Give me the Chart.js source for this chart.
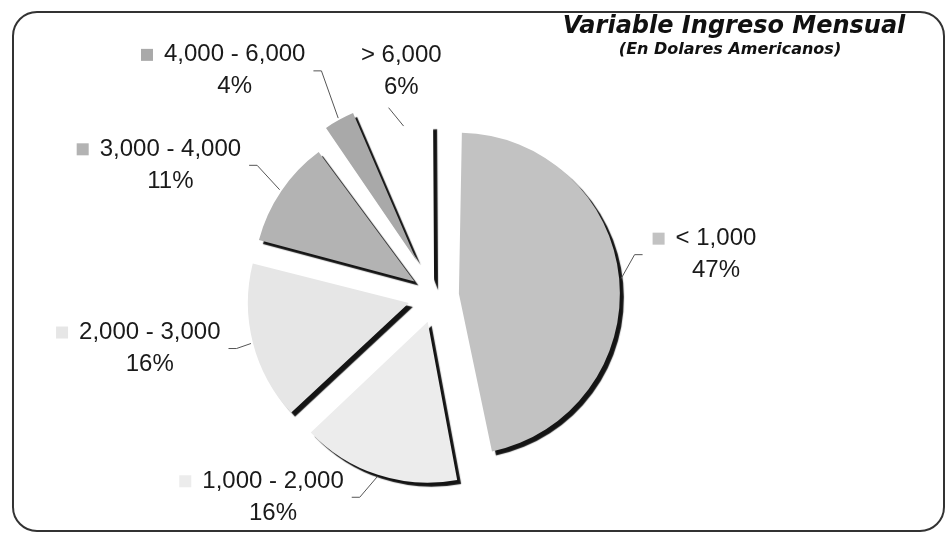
<!DOCTYPE html>
<html>
<head>
<meta charset="utf-8">
<script src="https://cdn.jsdelivr.net/npm/chart.js@4.4.0/dist/chart.umd.min.js"></script>
<style>
    html, body { margin: 0; padding: 0; background: #fff; }
    #wrap { position: relative; width: 950px; height: 537px; }
</style>
</head>
<body>
<div id="wrap"><canvas id="chart"></canvas></div>
<script>
// Données
const categories = ['< 1,000', '1,000 - 2,000', '2,000 - 3,000', '3,000 - 4,000', '4,000 - 6,000', '> 6,000'];
const percents = [47, 16, 16, 11, 4, 6];

// Style des secteurs
const sliceColors = ['#c2c2c2', '#ececec', '#e6e6e6', '#b3b3b3', '#a9a9a9', '#ffffff'];
const explodePx = [23, 27, 28, 26, 40, 10];
// Placement des étiquettes (décalage angulaire en degrés, distance au centre)
const labelTurn = [-3, 21, 4, -8, -13, 2];
const labelDist = [283, 259, 291, 296, 302, 227];

const PIE_R = 161;

// Ombre portée des secteurs + correction du rayon (v4 agrandit les secteurs décalés)
const shadowPlugin = {
    id: 'sliceShadow',
    beforeDatasetsDraw(chart) {
        const meta = chart.getDatasetMeta(0);
        meta.data.forEach(arc => {
            const off = (arc.options.offset || 0) / 4;
            const fix = 1 - Math.sin(Math.min(Math.PI, arc.circumference));
            arc.outerRadius = PIE_R - off * fix;
        });
        const ctx = chart.ctx;
        ctx.save();
        ctx.shadowColor = 'rgba(0,0,0,0.92)';
        ctx.shadowOffsetX = 4;
        ctx.shadowOffsetY = 4;
        ctx.shadowBlur = 1;
    },
    afterDatasetsDraw(chart) {
        chart.ctx.restore();
    }
};

// Etiquettes avec lignes de rappel
const labelsPlugin = {
    id: 'sliceLabels',
    afterDatasetsDraw(chart) {
        const ctx = chart.ctx;
        const meta = chart.getDatasetMeta(0);
        ctx.save();
        ctx.font = '24px "Liberation Sans", Arial, sans-serif';
        ctx.textBaseline = 'middle';
        ctx.textAlign = 'center';
        meta.data.forEach((arc, i) => {
            const mid = (arc.startAngle + arc.endAngle) / 2;
            const a = mid + labelTurn[i] * Math.PI / 180;
            const cx = arc.x + Math.cos(a) * labelDist[i];
            const cy = arc.y + Math.sin(a) * labelDist[i];
            const line1 = categories[i];
            const line2 = percents[i] + '%';
            const w1 = ctx.measureText(line1).width;
            const y1 = cy - 16, y2 = cy + 16;
            const keyX = cx - w1 / 2 - 23;
            const left = keyX - 2, right = cx + w1 / 2, bottom = y2 + 12;

            // ligne de rappel
            const sx = arc.x + Math.cos(mid) * explodePx[i];
            const sy = arc.y + Math.sin(mid) * explodePx[i];
            const px = sx + Math.cos(mid) * (PIE_R + 2);
            const py = sy + Math.sin(mid) * (PIE_R + 2);
            let ex, ey, kx;
            if (px > right) { ex = right + 8; ey = cy; kx = ex + 8; }
            else if (px < left) { ex = left - 8; ey = cy; kx = ex - 8; }
            else { ex = px - 15; ey = bottom + 8; kx = ex; }
            ctx.strokeStyle = '#555';
            ctx.lineWidth = 1;
            ctx.beginPath();
            ctx.moveTo(px, py);
            ctx.lineTo(kx, ey);
            ctx.lineTo(ex, ey);
            ctx.stroke();

            // clé de légende
            if (sliceColors[i] !== '#ffffff') {
                ctx.fillStyle = sliceColors[i];
                ctx.fillRect(keyX, y1 - 6, 12, 12);
            }
            ctx.fillStyle = '#1a1a1a';
            ctx.fillText(line1, cx, y1);
            ctx.fillText(line2, cx, y2);
        });
        ctx.restore();
    }
};

// Titre et cadre arrondi
const framePlugin = {
    id: 'frameTitle',
    afterDraw(chart) {
        const ctx = chart.ctx;
        ctx.save();
        ctx.strokeStyle = '#333';
        ctx.lineWidth = 2;
        ctx.beginPath();
        ctx.roundRect(13, 12, 931, 519, 24);
        ctx.stroke();

        ctx.fillStyle = '#111';
        ctx.textAlign = 'center';
        ctx.textBaseline = 'middle';
        ctx.font = 'italic bold 24px "DejaVu Sans", Verdana, sans-serif';
        ctx.fillText('Variable Ingreso Mensual', 734, 27);
        ctx.font = 'italic bold 16px "DejaVu Sans", Verdana, sans-serif';
        ctx.fillText('(En Dolares Americanos)', 730, 50);
        ctx.restore();
    }
};

const chart = new Chart(document.getElementById('chart'), {
    type: 'pie',
    data: {
        labels: categories,
        datasets: [{
            data: percents,
            backgroundColor: sliceColors,
            borderWidth: 0,
            // l'arc v4 divise l'offset par 4
            offset: explodePx.map(px => px * 4),
            radius: PIE_R
        }]
    },
    options: {
        responsive: true,
        maintainAspectRatio: false,
        animation: false,
        layout: { padding: { left: 0, right: 78, top: 55, bottom: 0 } },
        plugins: {
            legend: { display: false },
            title: { display: false },
            tooltip: { enabled: false }
        },
        events: []
    },
    plugins: [shadowPlugin, labelsPlugin, framePlugin]
});
</script>
</body>
</html>
